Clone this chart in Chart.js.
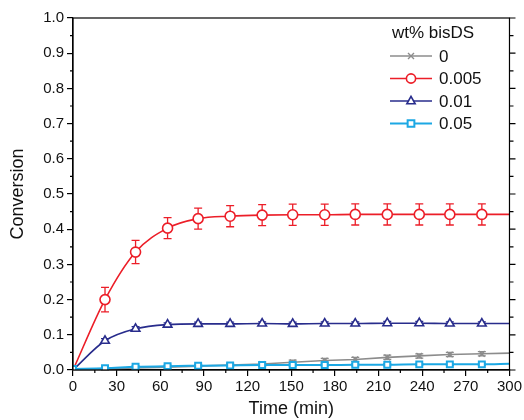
<!DOCTYPE html>
<html>
<head>
<meta charset="utf-8">
<script src="https://cdn.jsdelivr.net/npm/chart.js@4"></script>
<style>
  html, body { margin: 0; padding: 0; background: #fff; }
  #wrap { width: 524px; height: 420px; }
</style>
</head>
<body>
<div id="wrap"><canvas id="chart" width="524" height="420"></canvas></div>
<script>
// sampling times (min); the last one only carries the fitted line to 300
var times = [0, 22, 43, 65, 86, 108, 130, 151, 173, 194, 216, 238, 259, 281, 300];

var labels = ['0', '0.005', '0.01', '0.05'];

var conv0    = [0, 0.003, 0.006, 0.008, 0.011, 0.014, 0.017, 0.022, 0.027, 0.030, 0.036, 0.040, 0.044, 0.046, 0.048];
var conv005  = [0, 0.200, 0.335, 0.403, 0.430, 0.437, 0.440, 0.441, 0.441, 0.442, 0.442, 0.442, 0.442, 0.442, 0.442];
var conv01   = [0, 0.083, 0.117, 0.129, 0.131, 0.131, 0.132, 0.131, 0.132, 0.132, 0.133, 0.133, 0.132, 0.132, 0.132];
var conv05   = [0.003, 0.005, 0.009, 0.011, 0.012, 0.013, 0.014, 0.014, 0.014, 0.015, 0.015, 0.016, 0.016, 0.016, 0.018];

var err0   = [0, 0.004, 0.004, 0.004, 0.005, 0.005, 0.005, 0.006, 0.006, 0.006, 0.006, 0.006, 0.006, 0.006, 0];
var err005 = [0, 0.035, 0.033, 0.030, 0.030, 0.030, 0.030, 0.030, 0.030, 0.030, 0.030, 0.030, 0.030, 0.030, 0];
var err01  = [0, 0.006, 0.006, 0.005, 0.005, 0.005, 0.005, 0.005, 0.005, 0.005, 0.005, 0.005, 0.005, 0.005, 0];
var err05  = [0, 0.003, 0.003, 0.003, 0.003, 0.003, 0.003, 0.003, 0.003, 0.003, 0.003, 0.003, 0.003, 0.003, 0];

var xTicks = [0, 30, 60, 90, 120, 150, 180, 210, 240, 270, 300];

var grey = 'rgb(140,140,140)';
var red = 'rgb(236,30,40)';
var navy = 'rgb(40,44,140)';
var cyan = 'rgb(28,168,228)';
var FONT = '"Liberation Sans", Arial, Helvetica, sans-serif';

function pts(vals) {
  return times.map(function (t, i) { return { x: t, y: vals[i] }; });
}
// no marker at the ends of the fitted curves
function radii(r, firstToo) {
  return times.map(function (t, i) {
    if (i === times.length - 1) return 0;
    if (i === 0 && !firstToo) return 0;
    return r;
  });
}

var datasets = [
  { label: labels[3], data: pts(conv05), errs: err05, borderColor: cyan, backgroundColor: '#fff',
    pointStyle: 'rect', pointRadius: radii(4.2, true), pointBorderWidth: 2, borderWidth: 2,
    cubicInterpolationMode: 'monotone' },
  { label: labels[1 + 1], data: pts(conv01), errs: err01, borderColor: navy, backgroundColor: '#fff',
    pointStyle: 'triangle', pointRadius: radii(5), pointBorderWidth: 1.6, borderWidth: 1.6,
    cubicInterpolationMode: 'monotone' },
  { label: labels[1], data: pts(conv005), errs: err005, borderColor: red, backgroundColor: '#fff',
    pointStyle: 'circle', pointRadius: radii(5), pointBorderWidth: 1.6, borderWidth: 1.6,
    cubicInterpolationMode: 'monotone' },
  { label: labels[0], data: pts(conv0), errs: err0, borderColor: grey, backgroundColor: grey,
    pointStyle: 'crossRot', pointRadius: radii(4), pointBorderWidth: 1.4, borderWidth: 1.6,
    tension: 0 }
];

function marker(ctx, style, x, y, r, color, lw) {
  ctx.save();
  ctx.strokeStyle = color;
  ctx.fillStyle = '#fff';
  ctx.lineWidth = lw;
  ctx.beginPath();
  if (style === 'circle') {
    ctx.arc(x, y, r, 0, Math.PI * 2);
    ctx.fill(); ctx.stroke();
  } else if (style === 'rect') {
    ctx.rect(x - r * 0.8, y - r * 0.8, r * 1.6, r * 1.6);
    ctx.fill(); ctx.stroke();
  } else if (style === 'triangle') {
    ctx.moveTo(x, y - r);
    ctx.lineTo(x + r * 0.9, y + r * 0.6);
    ctx.lineTo(x - r * 0.9, y + r * 0.6);
    ctx.closePath();
    ctx.fill(); ctx.stroke();
  } else {
    var d = r * 0.75;
    ctx.moveTo(x - d, y - d); ctx.lineTo(x + d, y + d);
    ctx.moveTo(x + d, y - d); ctx.lineTo(x - d, y + d);
    ctx.stroke();
  }
  ctx.restore();
}

var errorBars = {
  id: 'errorBars',
  beforeDatasetsDraw: function (chart) {
    var ctx = chart.ctx, ys = chart.scales.y;
    chart.data.datasets.forEach(function (ds, di) {
      var meta = chart.getDatasetMeta(di);
      ctx.save();
      ctx.strokeStyle = ds.borderColor;
      ctx.lineWidth = 1.3;
      meta.data.forEach(function (p, i) {
        var e = ds.errs[i];
        if (!e) return;
        var v = ds.data[i].y;
        var top = ys.getPixelForValue(v + e), bot = ys.getPixelForValue(v - e);
        ctx.beginPath();
        ctx.moveTo(p.x, top); ctx.lineTo(p.x, bot);
        ctx.moveTo(p.x - 4, top); ctx.lineTo(p.x + 4, top);
        ctx.moveTo(p.x - 4, bot); ctx.lineTo(p.x + 4, bot);
        ctx.stroke();
      });
      ctx.restore();
    });
  }
};

var frame = {
  id: 'frame',
  afterDraw: function (chart) {
    var ctx = chart.ctx, a = chart.chartArea, xs = chart.scales.x, ys = chart.scales.y;
    ctx.save();
    ctx.strokeStyle = '#000';
    ctx.lineWidth = 1.2;
    ctx.strokeRect(a.left, a.top, a.right - a.left, a.bottom - a.top);
    ctx.beginPath();
    var v, px, major;
    for (v = 0; v <= 100; v += 5) {
      px = ys.getPixelForValue(v / 100);
      major = v % 10 === 0;
      if (!major) { ctx.moveTo(a.left - 3, px); ctx.lineTo(a.left, px); }
      ctx.moveTo(a.right, px); ctx.lineTo(a.right + (major ? 6 : 4), px);
    }
    for (v = 15; v < 300; v += 30) {
      px = xs.getPixelForValue(v);
      ctx.moveTo(px, a.bottom); ctx.lineTo(px, a.bottom + 3);
    }
    ctx.stroke();

    // legend
    ctx.fillStyle = '#111';
    ctx.font = '17px ' + FONT;
    ctx.textBaseline = 'middle';
    ctx.textAlign = 'left';
    ctx.fillText('wt% bisDS', 392, 33);
    var order = [3, 2, 1, 0];
    order.forEach(function (di, row) {
      var ds = chart.data.datasets[di];
      var y = 56 + row * 22.5;
      ctx.save();
      ctx.strokeStyle = ds.borderColor;
      ctx.lineWidth = ds.borderWidth;
      ctx.beginPath(); ctx.moveTo(390, y); ctx.lineTo(432, y); ctx.stroke();
      ctx.restore();
      var r = ds.pointStyle === 'crossRot' ? 4 : (ds.pointStyle === 'rect' ? 4.2 : 4.6);
      marker(ctx, ds.pointStyle, 411, y, r, ds.borderColor, ds.pointBorderWidth);
      ctx.fillStyle = '#111';
      ctx.fillText(ds.label, 439, y + 1);
    });
    ctx.restore();
  }
};

new Chart(document.getElementById('chart').getContext('2d'), {
  type: 'line',
  data: { datasets: datasets },
  plugins: [errorBars, frame],
  options: {
    responsive: false,
    animation: false,
    layout: { padding: { top: 18, right: 14, left: 0, bottom: 0 } },
    plugins: { legend: { display: false }, tooltip: { enabled: false } },
    scales: {
      x: {
        type: 'linear', min: 0, max: 300,
        afterBuildTicks: function (s) { s.ticks = xTicks.map(function (v) { return { value: v }; }); },
        afterFit: function (s) { s.height = 50; },
        grid: { drawOnChartArea: false, tickLength: 6, color: '#000', lineWidth: 1.2 },
        border: { color: '#000', width: 1.2 },
        ticks: { color: '#111', font: { family: FONT, size: 15 }, padding: 2, maxRotation: 0 },
        title: { display: true, text: 'Time (min)', color: '#111', font: { family: FONT, size: 18 }, padding: { top: 0, bottom: 0 } }
      },
      y: {
        type: 'linear', min: 0, max: 1,
        afterFit: function (s) { s.width = 73; },
        grid: { drawOnChartArea: false, tickLength: 6, color: '#000', lineWidth: 1.2 },
        border: { color: '#000', width: 1.2 },
        ticks: { stepSize: 0.1, color: '#111', font: { family: FONT, size: 15 }, padding: 3,
          callback: function (v) { return v.toFixed(1); } },
        title: { display: true, text: 'Conversion', color: '#111', font: { family: FONT, size: 18 }, padding: { top: 7, bottom: 0 } }
      }
    }
  }
});
</script>
</body>
</html>
